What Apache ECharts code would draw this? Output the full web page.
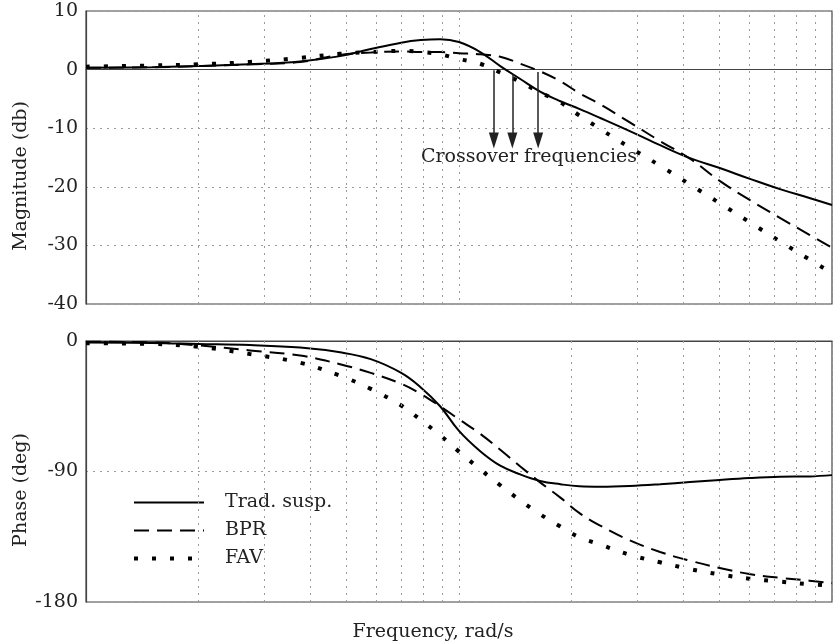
<!DOCTYPE html>
<html>
<head>
<meta charset="utf-8">
<script src="https://cdn.jsdelivr.net/npm/echarts@6/dist/echarts.min.js"></script>
<style>
html,body{margin:0;padding:0;background:#fff;}
#chart{width:833px;height:642px;}
</style>
</head>
<body>
<div id="chart"></div>
<script>
// Frequencies (rad/s, log axis, no labels shown in original)
const freqs = [1, 1.5, 2, 2.75, 3.75, 4.8, 5.8, 7, 7.9, 8.9, 10, 11.4, 12.9, 14.6, 16.5, 18.7, 21, 24, 28.7, 34.6, 41.6, 50, 60, 72.5, 87, 100];

// Magnitude (dB)
const magTrad = [0.3, 0.4, 0.6, 0.9, 1.4, 2.3, 3.5, 4.6, 5.05, 5.2, 4.7, 3.0, 0.6, -1.6, -3.75, -5.4, -6.7, -8.3, -10.5, -12.9, -15.1, -16.8, -18.6, -20.4, -21.9, -23.1];
const magBPR  = [0.3, 0.4, 0.6, 0.9, 1.3, 2.5, 2.9, 3.1, 3.0, 3.0, 2.8, 2.6, 2.2, 1.0, -0.3, -2.0, -4.0, -6.0, -9.0, -12.2, -15.2, -19.0, -22.2, -25.3, -28.2, -30.4];
const magFAV  = [0.5, 0.7, 0.9, 1.3, 2.0, 2.7, 3.0, 3.2, 3.0, 2.6, 1.8, 1.0, -0.5, -2.1, -3.9, -5.6, -7.8, -10.2, -13.3, -16.4, -19.6, -22.8, -26.0, -29.3, -32.4, -34.7];

// Phase (deg)
const phaseTrad = [-1, -1.3, -2, -2.8, -4.5, -7.8, -12.5, -22, -32, -45, -62, -76, -86, -92, -96.5, -98.8, -100.2, -100.5, -100, -98.8, -97.3, -95.8, -94.5, -93.6, -93.4, -92.5];
const phaseBPR  = [-0.5, -1, -3, -6.5, -10, -16, -22, -29.5, -36.5, -45, -54, -64, -75, -86.5, -97.5, -108, -118.5, -127.5, -137.5, -145.5, -151.5, -156.5, -160.7, -163.3, -165.3, -167];
const phaseFAV  = [-1.5, -2, -4, -9, -15, -24, -33, -44.5, -54.5, -65, -76.3, -88.5, -99.5, -110, -119.5, -128, -135.3, -140.5, -147.5, -152.6, -157.3, -161, -163.9, -165.9, -167.8, -168.6];

// Crossover arrows: frequency, start (dB), end (dB)
const crossoverFreqs = [12.4, 13.9, 16.3];
const crossoverStart = [-0.1, -0.8, -0.4];
const crossoverEnd = -12.1;

// Minor log grid lines
const minorGrid = [2, 3, 4, 5, 6, 7, 8, 9, 20, 30, 40, 50, 60, 70, 80, 90];

const seriesNames = ['Trad. susp.', 'BPR', 'FAV'];
const magTicks = {min: -40, max: 10, interval: 10};
const phaseTicks = {min: -180, max: 0, interval: 90};

const FONT = 'DejaVu Serif';
const FS = 19;
const TXT = '#222';
const zip = (ys) => freqs.map((f, i) => [f, ys[i]]);

const gridLineStyle = {color: '#9a9a9a', type: [2, 5], width: 1};
const styles = [
  {color: '#000', width: 2, type: 'solid'},
  {color: '#000', width: 2, type: [15, 8]},
  {color: '#000', width: 4, type: [4, 14], cap: 'butt'}
];

function minorMarkLine() {
  return {
    silent: true, symbol: 'none', label: {show: false},
    lineStyle: gridLineStyle, animation: false,
    data: minorGrid.map(v => ({xAxis: v}))
  };
}

const magData = [magTrad, magBPR, magFAV];
const phaseData = [phaseTrad, phaseBPR, phaseFAV];
const series = [];
seriesNames.forEach((name, i) => {
  const s1 = {
    name, type: 'line', xAxisIndex: 0, yAxisIndex: 0, data: zip(magData[i]),
    symbol: 'none', smooth: 0.4, lineStyle: styles[i], itemStyle: {color: '#000'}, z: 3
  };
  if (i === 0) s1.markLine = minorMarkLine();
  series.push(s1);
  const s2 = {
    name, type: 'line', xAxisIndex: 1, yAxisIndex: 1, data: zip(phaseData[i]),
    symbol: 'none', smooth: 0.4, lineStyle: styles[i], itemStyle: {color: '#000'}, z: 3
  };
  if (i === 0) s2.markLine = minorMarkLine();
  series.push(s2);
});
// arrows
series.push({
  type: 'line', xAxisIndex: 0, yAxisIndex: 0, data: [], silent: true,
  markLine: {
    silent: true, symbol: ['none', 'triangle'], symbolSize: [10, 16],
    label: {show: false},
    lineStyle: {color: '#222', width: 1.5, type: 'solid'},
    data: crossoverFreqs.map((f, i) => [{coord: [f, crossoverStart[i]]}, {coord: [f, crossoverEnd]}])
  }
});

const xAxisCommon = {
  type: 'log', logBase: 10, min: 1, max: 100,
  axisLabel: {show: false}, axisTick: {show: false},
  axisLine: {show: true, lineStyle: {color: '#444', width: 1.2}},
  splitLine: {show: true, lineStyle: gridLineStyle}
};
const yAxisCommon = {
  type: 'value',
  axisLabel: {fontFamily: FONT, fontSize: FS, color: TXT, margin: 8},
  axisTick: {show: false},
  axisLine: {show: true, lineStyle: {color: '#444', width: 1.2}},
  splitLine: {show: true, lineStyle: gridLineStyle}
};

const option = {
  animation: false,
  backgroundColor: '#fff',
  grid: [
    {left: 86, right: 1, top: 11, height: 293, show: true, borderColor: '#444', borderWidth: 1.2},
    {left: 86, right: 1, top: 341, height: 261, show: true, borderColor: '#444', borderWidth: 1.2}
  ],
  xAxis: [
    Object.assign({gridIndex: 0}, xAxisCommon),
    Object.assign({gridIndex: 1}, xAxisCommon)
  ],
  yAxis: [
    Object.assign({gridIndex: 0}, yAxisCommon, magTicks),
    Object.assign({gridIndex: 1}, yAxisCommon, phaseTicks)
  ],
  legend: {
    data: seriesNames, orient: 'vertical', left: 127, top: 488,
    itemWidth: 70, itemHeight: 14, itemGap: 9,
    itemStyle: {opacity: 0},
    lineStyle: {width: 'inherit'},
    textStyle: {fontFamily: FONT, fontSize: FS, color: TXT, lineHeight: 19, padding: [0, 0, 0, 16]},
    backgroundColor: 'transparent'
  },
  graphic: [
    {type: 'text', x: 21, y: 176, rotation: Math.PI / 2,
     style: {text: 'Magnitude (db)', font: FS + 'px "DejaVu Serif"', fill: TXT, align: 'center', verticalAlign: 'middle'}},
    {type: 'text', x: 21, y: 490, rotation: Math.PI / 2,
     style: {text: 'Phase (deg)', font: FS + 'px "DejaVu Serif"', fill: TXT, align: 'center', verticalAlign: 'middle'}},
    {type: 'text', x: 433, y: 632,
     style: {text: 'Frequency, rad/s', font: FS + 'px "DejaVu Serif"', fill: TXT, align: 'center', verticalAlign: 'middle'}},
    {type: 'text', x: 421, y: 157, z: 10,
     style: {text: 'Crossover frequencies', font: FS + 'px "DejaVu Serif"', fill: TXT, align: 'left', verticalAlign: 'middle'}}
  ],
  series
};

const chart = echarts.init(document.getElementById('chart'), null, {renderer: 'canvas'});
chart.setOption(option);
</script>
</body>
</html>
